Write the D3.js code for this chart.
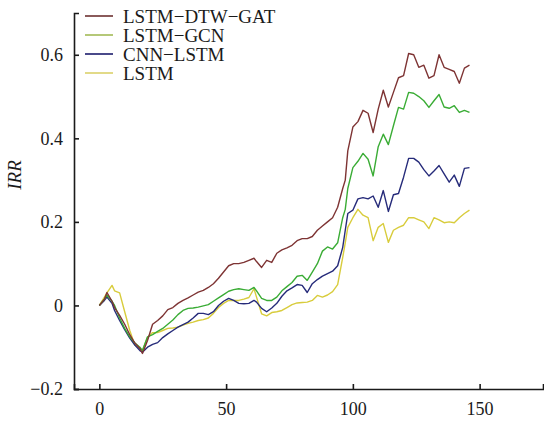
<!DOCTYPE html>
<html><head><meta charset="utf-8">
<script src="https://cdn.jsdelivr.net/npm/d3@7/dist/d3.min.js"></script>
<style>body{margin:0;background:#fff}svg{display:block}</style>
</head><body><svg id="c" width="544" height="422"></svg>
<script>
const days = [0,2,3,5,6,8,10,12,14,16,17,
  19,21,23,25,27,29,31,33,35,37,39,41,43,45,47,49,51,53,55,57,59,61,
  62,
  64,66,68,70,72,74,76,78,80,82,84,86,88,90,92,94,96,
  97,
  98,100,102,104,106,108,110,112,114,116,118,120,122,124,126,128,130,132,134,136,138,140,142,144,146];
const seriesNames = ["LSTM−DTW−GAT","LSTM−GCN","CNN−LSTM","LSTM"];
const lstmDtwGat = [0,0.015,0.031,0.01,-0.005,-0.024,-0.045,-0.07,-0.09,-0.103,-0.115,
  -0.084,-0.045,-0.036,-0.025,-0.01,-0.005,0.005,0.012,0.018,0.025,0.032,0.036,0.043,0.052,0.065,0.08,0.095,0.1,0.1,0.103,0.108,0.113,
  0.105,
  0.091,0.108,0.103,0.125,0.133,0.138,0.144,0.155,0.16,0.16,0.165,0.18,0.19,0.2,0.21,0.235,0.28,
  0.30,
  0.37,0.427,0.44,0.467,0.46,0.414,0.47,0.515,0.475,0.51,0.545,0.55,0.603,0.6,0.57,0.575,0.544,0.55,0.6,0.57,0.565,0.56,0.532,0.568,0.575];
const lstmGcn = [0,0.015,0.025,0.01,0,-0.03,-0.055,-0.075,-0.09,-0.1,-0.108,
  -0.075,-0.07,-0.062,-0.055,-0.045,-0.035,-0.022,-0.012,-0.007,-0.006,-0.004,-0.001,0.002,0.01,0.018,0.026,0.034,0.038,0.04,0.038,0.036,0.043,
  0.035,
  0.017,0.012,0.012,0.02,0.035,0.045,0.055,0.07,0.072,0.06,0.08,0.1,0.13,0.14,0.135,0.15,0.21,
  0.23,
  0.28,0.33,0.345,0.364,0.35,0.31,0.38,0.41,0.385,0.43,0.474,0.47,0.51,0.508,0.5,0.49,0.474,0.49,0.505,0.475,0.472,0.478,0.462,0.467,0.462];
const cnnLstm = [0,0.012,0.02,0.005,-0.012,-0.036,-0.058,-0.078,-0.095,-0.108,-0.112,
  -0.1,-0.093,-0.089,-0.077,-0.068,-0.06,-0.052,-0.046,-0.04,-0.03,-0.019,-0.019,-0.022,-0.015,0,0.01,0.017,0.012,0.005,0.004,0.005,0.012,
  0.008,
  -0.007,-0.015,-0.006,0.005,0.022,0.035,0.042,0.05,0.048,0.031,0.052,0.062,0.07,0.076,0.082,0.095,0.139,
  0.18,
  0.22,0.228,0.255,0.258,0.255,0.262,0.235,0.275,0.225,0.265,0.268,0.307,0.352,0.352,0.343,0.325,0.31,0.322,0.335,0.315,0.295,0.312,0.285,0.328,0.33];
const lstm = [0,0.02,0.03,0.048,0.035,0.03,-0.015,-0.06,-0.095,-0.103,-0.108,
  -0.077,-0.065,-0.065,-0.06,-0.055,-0.054,-0.052,-0.047,-0.043,-0.04,-0.036,-0.034,-0.03,-0.019,-0.005,0.005,0.012,0.012,0.012,0.015,0.019,0.04,
  0.02,
  -0.02,-0.025,-0.017,-0.015,-0.012,-0.005,0.002,0.006,0.007,0.008,0.012,0.024,0.02,0.025,0.033,0.05,0.115,
  0.15,
  0.187,0.21,0.23,0.216,0.21,0.155,0.187,0.196,0.151,0.18,0.187,0.192,0.21,0.21,0.205,0.2,0.184,0.21,0.205,0.198,0.2,0.198,0.21,0.22,0.228];
const xTicks = [0,50,100,150];
const yTicks = [-0.2,0,0.2,0.4,0.6];
const colors = ["#7e3434","#3aac35","#262b7a","#d8cc3c"];
const legendColors = ["#8a5a5a","#b5c878","#4a4a8a","#e2da88"];

const svg = d3.select("#c");
const x = d3.scaleLinear().domain([-10,175]).range([74,543]);
const y = d3.scaleLinear().domain([-0.2,0.7]).range([389,13]);
const font = "'Liberation Serif','Times New Roman',serif";

const allSeries = [lstmDtwGat,lstmGcn,cnnLstm,lstm];
const line = d3.line().x((d,i)=>x(days[i])).y(d=>y(d));
[3,2,1,0].forEach(k=>{
  svg.append("path").datum(allSeries[k]).attr("d",line)
    .attr("fill","none").attr("stroke",colors[k]).attr("stroke-width",1.4)
    .attr("stroke-linejoin","round");
});

const xa = svg.append("g").attr("transform","translate(0,389)")
  .call(d3.axisBottom(x).tickValues(xTicks).tickSizeInner(-5).tickSizeOuter(-5).tickPadding(13).tickFormat(d3.format("d")));
const ya = svg.append("g").attr("transform","translate(74,0)")
  .call(d3.axisLeft(y).tickValues(yTicks).tickSizeInner(-5).tickSizeOuter(-5).tickPadding(11)
    .tickFormat(d=> d===0 ? "0" : d3.format(".1f")(d)));
[xa,ya].forEach(a=>{
  a.selectAll("path,line").attr("stroke","#1a1a1a").attr("stroke-width",1.6);
  a.selectAll("text").attr("font-family",font).attr("font-size",18).attr("fill","#1a1a1a");
});

svg.append("text").attr("transform","translate(21,175) rotate(-90)")
  .attr("text-anchor","middle").attr("font-family",font).attr("font-style","italic")
  .attr("font-size",19).attr("fill","#1a1a1a").text("IRR");

const lg = svg.append("g");
seriesNames.forEach((n,i)=>{
  const yy = 16 + i*19;
  lg.append("line").attr("x1",85).attr("x2",113).attr("y1",yy).attr("y2",yy)
    .attr("stroke",legendColors[i]).attr("stroke-width",2);
  lg.append("text").attr("x",123).attr("y",yy).attr("dy","0.35em")
    .attr("font-family",font).attr("font-size",19).attr("fill","#1a1a1a").text(n);
});
</script></body></html>
